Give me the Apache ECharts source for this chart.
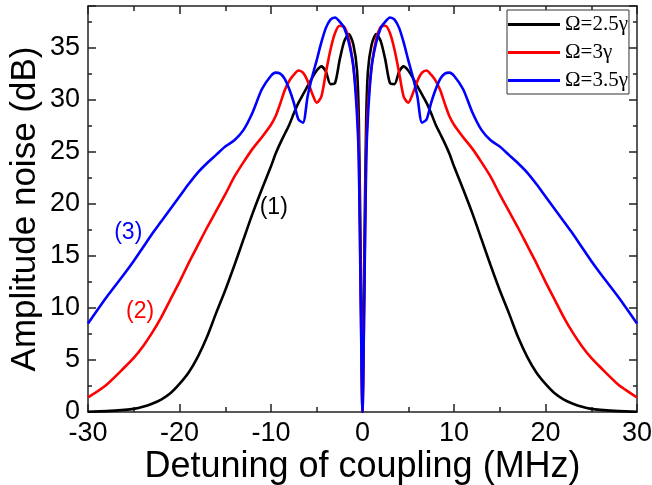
<!DOCTYPE html>
<html>
<head>
<meta charset="utf-8">
<script src="https://cdn.jsdelivr.net/npm/echarts@6/dist/echarts.min.js"></script>
<style>
html,body{margin:0;padding:0;background:#fff;}
#chart{width:652px;height:485px;}
</style>
</head>
<body>
<div id="chart"></div>
<script>
// Detuning grid (MHz)
var detuning = [-30,-28,-26,-25,-24,-23,-22,-21,-20,-19,-18,-17,-16,-15,-14,-13,-12,-11,-10,-9.5,-9,-8.5,-8,-7.5,-7,-6.5,-6,-5.5,-5,-4.5,-4,-3.5,-3,-2.5,-2,-1.5,-1,-0.6,-0.4,-0.2,0,
                0.2,0.4,0.6,1,1.5,2,2.5,3,3.5,4,4.5,5,5.5,6,6.5,7,7.5,8,8.5,9,9.5,10,11,12,13,14,15,16,17,18,19,20,21,22,23,24,25,26,28,30];
// Ω = 2.5γ  (curve 1, black)
var noise25 = [0.03,0.08,0.2,0.3,0.5,0.8,1.2,1.8,2.7,3.8,5.3,7.2,9.5,11.7,14.1,16.6,19.1,21.4,23.6,24.8,25.8,26.7,27.6,28.7,29.7,30.5,31.3,32.1,32.8,33.2,32.7,31.5,31.6,33.8,35.6,36.3,35.3,32.8,28.0,15.0,0,
               15.0,28.0,32.8,35.3,36.3,35.6,33.8,31.6,31.5,32.7,33.2,32.8,32.1,31.3,30.5,29.7,28.7,27.6,26.7,25.8,24.8,23.6,21.4,19.1,16.6,14.1,11.7,9.5,7.2,5.3,3.8,2.7,1.8,1.2,0.8,0.5,0.3,0.2,0.08,0.03];
// Ω = 3γ  (curve 2, red)
var noise30 = [1.4,2.6,4.3,5.2,6.3,7.6,9.1,10.8,12.5,14.3,16.0,17.7,19.3,20.9,22.6,24.0,25.3,26.4,27.6,28.4,29.6,30.9,31.8,32.4,32.8,32.6,31.8,30.6,29.7,30.3,32.6,34.8,36.4,37.1,37.0,35.8,33.2,29.5,25.0,12.0,0,
               12.0,25.0,29.5,33.2,35.8,37.0,37.1,36.4,34.8,32.6,30.3,29.7,30.6,31.8,32.6,32.8,32.4,31.8,30.9,29.6,28.4,27.6,26.4,25.3,24.0,22.6,20.9,19.3,17.7,16.0,14.3,12.5,10.8,9.1,7.6,6.3,5.2,4.3,2.6,1.4];
// Ω = 3.5γ  (curve 3, blue)
var noise35 = [8.5,11.0,13.3,14.5,15.8,17.1,18.3,19.5,20.7,21.9,23.0,23.9,24.7,25.5,26.1,27.1,28.8,31.0,32.3,32.6,32.5,32.0,31.0,29.7,28.1,27.8,30.3,32.2,33.8,35.5,36.9,37.7,37.9,37.5,36.9,35.5,33.2,28.5,24.0,11.0,0,
               11.0,24.0,28.5,33.2,35.5,36.9,37.5,37.9,37.7,36.9,35.5,33.8,32.2,30.3,27.8,28.1,29.7,31.0,32.0,32.5,32.6,32.3,31.0,28.8,27.1,26.1,25.5,24.7,23.9,23.0,21.9,20.7,19.5,18.3,17.1,15.8,14.5,13.3,11.0,8.5];
var seriesNames = ['\u03A9=2.5\u03B3', '\u03A9=3\u03B3', '\u03A9=3.5\u03B3'];
var seriesColors = ['#000000', '#ff0000', '#0000ff'];
// annotations
var annotText = ['(1)', '(2)', '(3)'];
var annotX = [-9.7, -24.3, -25.6];
var annotY = [19.6, 9.6, 17.2];
var xTicks = [-30, -20, -10, 0, 10, 20, 30];
var yTicks = [0, 5, 10, 15, 20, 25, 30, 35];

function pairs(xs, ys) { return xs.map(function (x, i) { return [x, ys[i]]; }); }
var allY = [noise25, noise30, noise35];

var chart = echarts.init(document.getElementById('chart'), null, {renderer: 'canvas'});
var axisLine = {show: true, onZero: false, lineStyle: {color: '#222', width: 1.5}};
var series = allY.map(function (ys, k) {
  return {
    name: seriesNames[k], type: 'line', xAxisIndex: 0, yAxisIndex: 0,
    data: pairs(detuning, ys), showSymbol: false, smooth: 0.25,
    lineStyle: {color: seriesColors[k], width: 2.6}, itemStyle: {color: seriesColors[k]},
    z: 2 + k,
    markPoint: {
      symbol: 'circle', symbolSize: 0, silent: true,
      label: {show: true, position: 'inside', color: seriesColors[k], fontSize: 23, fontFamily: 'Liberation Sans', formatter: annotText[k]},
      data: [{coord: [annotX[k], annotY[k]]}]
    }
  };
});
var option = {
  animation: false,
  backgroundColor: '#fff',
  grid: {left: 88, right: 15, top: 6, bottom: 73, containLabel: false, outerBoundsMode: 'none'},
  legend: {
    left: 507, top: 10, orient: 'vertical', icon: 'rect', itemWidth: 52, itemHeight: 3, itemGap: 7,
    padding: [4, 1, 3, 1], borderColor: '#333', borderWidth: 1, backgroundColor: '#fff',
    textStyle: {fontFamily: 'Liberation Serif', fontSize: 21, color: '#000'},
    data: seriesNames
  },
  xAxis: [{
    type: 'value', min: -30, max: 30, interval: 10, position: 'bottom',
    name: 'Detuning of coupling (MHz)', nameLocation: 'middle', nameGap: 37, nameMoveOverlap: false,
    nameTextStyle: {fontFamily: 'Liberation Sans', fontSize: 36, color: '#000'},
    axisLine: axisLine,
    axisTick: {show: true, inside: true, length: 8, lineStyle: {color: '#222', width: 1.5}},
    minorTick: {show: true, splitNumber: 2, length: 5, lineStyle: {color: '#222', width: 1.5}},
    axisLabel: {fontFamily: 'Liberation Sans', fontSize: 27, color: '#000', margin: 8,
      formatter: function (v) { return xTicks.indexOf(v) >= 0 ? String(v) : ''; }},
    splitLine: {show: false}
  }, {
    type: 'value', min: -30, max: 30, interval: 10, position: 'top',
    axisLine: axisLine,
    axisTick: {show: true, inside: true, length: 8, lineStyle: {color: '#222', width: 1.5}},
    minorTick: {show: true, splitNumber: 2, length: 5, lineStyle: {color: '#222', width: 1.5}},
    axisLabel: {show: false}, splitLine: {show: false}
  }],
  yAxis: [{
    type: 'value', min: 0, max: 39, interval: 5, position: 'left',
    name: 'Amplitude noise (dB)', nameLocation: 'middle', nameGap: 45, nameMoveOverlap: false,
    nameTextStyle: {fontFamily: 'Liberation Sans', fontSize: 35, color: '#000'},
    axisLine: axisLine,
    axisTick: {show: true, inside: true, length: 8, lineStyle: {color: '#222', width: 1.5}},
    minorTick: {show: true, splitNumber: 2, length: 4, lineStyle: {color: '#222', width: 1.5}},
    axisLabel: {fontFamily: 'Liberation Sans', fontSize: 27, color: '#000', margin: 8,
      formatter: function (v) { return yTicks.indexOf(v) >= 0 ? String(v) : ''; }},
    splitLine: {show: false}
  }, {
    type: 'value', min: 0, max: 39, interval: 5, position: 'right',
    axisLine: axisLine,
    axisTick: {show: true, inside: true, length: 8, lineStyle: {color: '#222', width: 1.5}},
    minorTick: {show: true, splitNumber: 2, length: 4, lineStyle: {color: '#222', width: 1.5}},
    axisLabel: {show: false}, splitLine: {show: false}
  }],
  series: series
};
chart.setOption(option);
</script>
</body>
</html>
